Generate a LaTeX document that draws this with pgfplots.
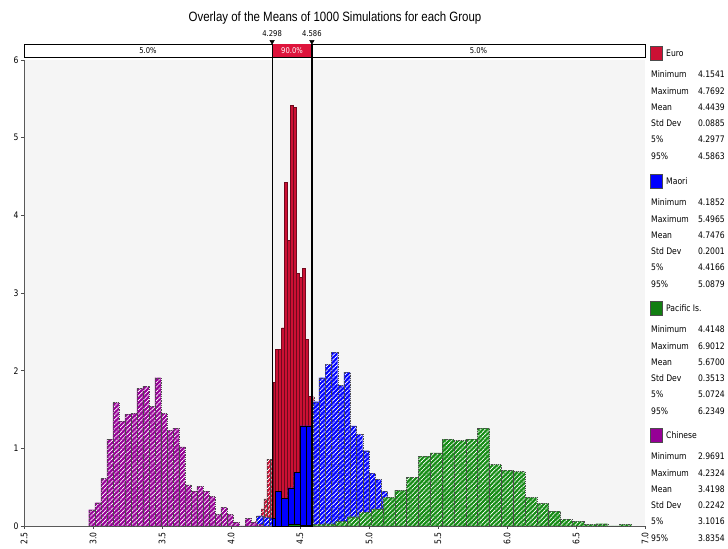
\documentclass[border=0pt]{standalone}
\usepackage{pgfplots}
\pgfplotsset{compat=1.18}
\usetikzlibrary{patterns.meta}
\usepackage{fontspec}
\setmainfont{DejaVu Sans}[FakeStretch=0.85]
\newfontfamily\titlefont{Liberation Sans}[FakeStretch=0.85]

\definecolor{euro}{RGB}{204,16,52}
\definecolor{eurobar}{RGB}{222,20,60}
\definecolor{maori}{RGB}{0,0,255}
\definecolor{pacific}{RGB}{20,140,20}
\definecolor{chinese}{RGB}{150,0,150}

\pgfplotsset{
  hatched/.style={ybar interval, fill=#1, draw=black!70, line width=0.3pt,
    dash pattern=on 1pt off 0.8pt,
    postaction={pattern={Lines[angle=45,distance=3.2pt,line width=1pt]}, pattern color=white}},
  solidbar/.style={ybar interval, fill=#1, draw=black, line width=0.5pt},
}

% histogram bins: left edge, density (last row closes the last bin)
\pgfplotstableread{
x y
2.9691 0.21
3.0127 0.30
3.0562 0.61
3.0998 1.12
3.1433 1.59
3.1869 1.35
3.2305 1.44
3.2740 1.45
3.3176 1.77
3.3611 1.80
3.4047 1.54
3.4483 1.91
3.4918 1.45
3.5354 1.23
3.5789 1.26
3.6225 1.02
3.6661 0.53
3.7096 0.45
3.7532 0.51
3.7967 0.45
3.8403 0.38
3.8839 0.15
3.9274 0.24
3.9710 0.15
4.0145 0.05
4.0581 0.00
4.1017 0.10
4.1452 0.05
4.1888 0.02
4.2324 0
}\chinese

\pgfplotstableread{
x y
4.1541 0.02
4.1753 0.06
4.1965 0.13
4.2177 0.22
4.2389 0.35
4.2602 0.86
4.2814 0.86
4.3026 1.85
4.3238 2.27
4.3450 2.27
4.3662 2.55
4.3874 4.42
4.4086 3.68
4.4298 5.42
4.4510 5.39
4.4722 3.25
4.4934 3.20
4.5146 3.32
4.5359 2.40
4.5571 1.67
4.5783 1.67
4.5995 0.60
4.6207 0.35
4.6419 0.20
4.6631 0.10
4.6843 0.05
4.7055 0.03
4.7268 0.02
4.7480 0.02
4.7692 0
}\euro

\pgfplotstableread{
x y
4.298 0.86
4.3026 1.85
4.3238 2.27
4.3450 2.27
4.3662 2.55
4.3874 4.42
4.4086 3.68
4.4298 5.42
4.4510 5.39
4.4722 3.25
4.4934 3.20
4.5146 3.32
4.5359 2.40
4.5571 1.67
4.5783 1.67
4.586 0
}\euromid

\pgfplotstableread{
x y
4.1852 0.13
4.2304 0.11
4.2756 0.10
4.3209 0.45
4.3661 0.36
4.4113 0.49
4.4565 0.69
4.5018 1.29
4.5470 1.29
4.5922 1.60
4.6374 1.91
4.6826 2.08
4.7279 2.24
4.7731 1.81
4.8183 1.98
4.8635 1.29
4.9088 1.18
4.9540 0.97
4.9992 0.68
5.0444 0.60
5.0896 0.45
5.1349 0.15
5.1801 0.10
5.2253 0.07
5.2705 0.04
5.3157 0.02
5.3610 0.01
5.4062 0.01
5.4514 0.01
5.4965 0
}\maori

\pgfplotstableread{
x y
4.298 0.10
4.3209 0.45
4.3661 0.36
4.4113 0.49
4.4565 0.69
4.5018 1.29
4.5470 1.29
4.586 0
}\maorimid

\pgfplotstableread{
x y
4.4148 0.02
4.5005 0.01
4.5863 0.02
4.6720 0.03
4.7578 0.06
4.8435 0.12
4.9292 0.18
5.0150 0.22
5.1007 0.37
5.1865 0.46
5.2722 0.63
5.3579 0.90
5.4437 0.94
5.5294 1.12
5.6152 1.10
5.7009 1.12
5.7866 1.26
5.8724 0.79
5.9581 0.72
6.0439 0.70
6.1296 0.37
6.2153 0.29
6.3011 0.19
6.3868 0.09
6.4726 0.06
6.5583 0.02
6.6440 0.03
6.7298 0.00
6.8155 0.02
6.9012 0
}\pacific

\pgfplotstableread{
x y
4.4148 0.02
4.5005 0.01
4.586 0
}\pacificmid

\tikzset{stat/.style={anchor=west, inner sep=0pt, font=\fontsize{9}{10}\selectfont},
         val/.style={anchor=east, inner sep=0pt, font=\fontsize{9}{10}\selectfont}}
% legend block: y of name row, colour, name, six statistics
\newcommand\statblock[9]{%
  \begin{scope}[yshift=#1pt]
    \fill[#2, draw=black!70, line width=0.4pt] (650pt,-7pt) rectangle (662pt,7pt);
    \node[stat] at (666pt,0pt) {#3};
    \node[stat] at (651pt,-21.5pt) {Minimum};  \node[val] at (725pt,-21.5pt) {#4};
    \node[stat] at (651pt,-37.8pt) {Maximum};  \node[val] at (725pt,-37.8pt) {#5};
    \node[stat] at (651pt,-54.1pt) {Mean};     \node[val] at (725pt,-54.1pt) {#6};
    \node[stat] at (651pt,-70.4pt) {Std Dev};  \node[val] at (725pt,-70.4pt) {#7};
    \node[stat] at (651pt,-86.7pt) {5\%};      \node[val] at (725pt,-86.7pt) {#8};
    \node[stat] at (651pt,-103pt) {95\%};      \node[val] at (725pt,-103pt) {#9};
  \end{scope}}

\begin{document}
\begin{tikzpicture}
\path (0pt,0pt) rectangle (728pt,546pt);
\node[font=\titlefont\fontsize{13.5}{15}\selectfont] at (335pt,528pt)
  {Overlay of the Means of 1000 Simulations for each Group};

\begin{axis}[
  at={(24pt,20pt)}, anchor=south west, scale only axis,
  width=621pt, height=466pt,
  xmin=2.5, xmax=7, ymin=0, ymax=6,
  clip=false,
  axis x line*=bottom, axis y line*=left,
  axis line style={black!65, line width=0.9pt, -},
  axis background/.style={fill=black!4},
  xtick={2.5,3.0,3.5,4.0,4.5,5.0,5.5,6.0,6.5,7.0},
  ytick={0,1,2,3,4,5,6},
  tick align=outside, major tick length=3pt,
  tick style={black!70, line width=0.6pt},
  /pgf/number format/assume math mode=true,
  tick label style={font=\fontsize{9}{10}\selectfont},
  xticklabel style={rotate=90, anchor=east,
    /pgf/number format/.cd, fixed, fixed zerofill, precision=1},
  yticklabel style={xshift=1pt},
]
\addplot[hatched=euro] table {\euro};
\addplot[solidbar=euro, draw=euro!55!black] table {\euromid};
\addplot[hatched=maori] table {\maori};
\addplot[solidbar=maori] table {\maorimid};
\addplot[hatched=pacific] table {\pacific};
\addplot[solidbar=pacific] table {\pacificmid};
\addplot[hatched=chinese] table {\chinese};

% percentile bar on top
\draw[black, line width=0.9pt, fill=white] (axis cs:2.5,6.036) rectangle (axis cs:7,6.203);
\fill[eurobar] (axis cs:4.298,6.036) rectangle (axis cs:4.586,6.203);
\addplot[black, line width=1pt] coordinates {(4.298,0) (4.298,6.203)};
\addplot[black, line width=1.6pt] coordinates {(4.586,0) (4.586,6.203)};
\addplot[only marks, mark=triangle*, mark size=2.6pt, mark options={rotate=180, fill=black, draw=black}]
  coordinates {(4.298,6.236) (4.586,6.236)};
\node[font=\fontsize{8}{9}\selectfont] at (axis cs:3.399,6.12) {5.0\%};
\node[font=\fontsize{8}{9}\selectfont, text=white] at (axis cs:4.442,6.12) {90.0\%};
\node[font=\fontsize{8}{9}\selectfont] at (axis cs:5.793,6.12) {5.0\%};
\node[font=\fontsize{8}{9}\selectfont] at (axis cs:4.298,6.335) {4.298};
\node[font=\fontsize{8}{9}\selectfont] at (axis cs:4.586,6.335) {4.586};
\end{axis}

\statblock{493}{euro}{Euro}{4.1541}{4.7692}{4.4439}{0.0885}{4.2977}{4.5863}
\statblock{365}{maori}{Maori}{4.1852}{5.4965}{4.7476}{0.2001}{4.4166}{5.0879}
\statblock{238}{pacific!90!black}{Pacific Is.}{4.4148}{6.9012}{5.6700}{0.3513}{5.0724}{6.2349}
\statblock{111}{chinese}{Chinese}{2.9691}{4.2324}{3.4198}{0.2242}{3.1016}{3.8354}
\end{tikzpicture}
\end{document}
